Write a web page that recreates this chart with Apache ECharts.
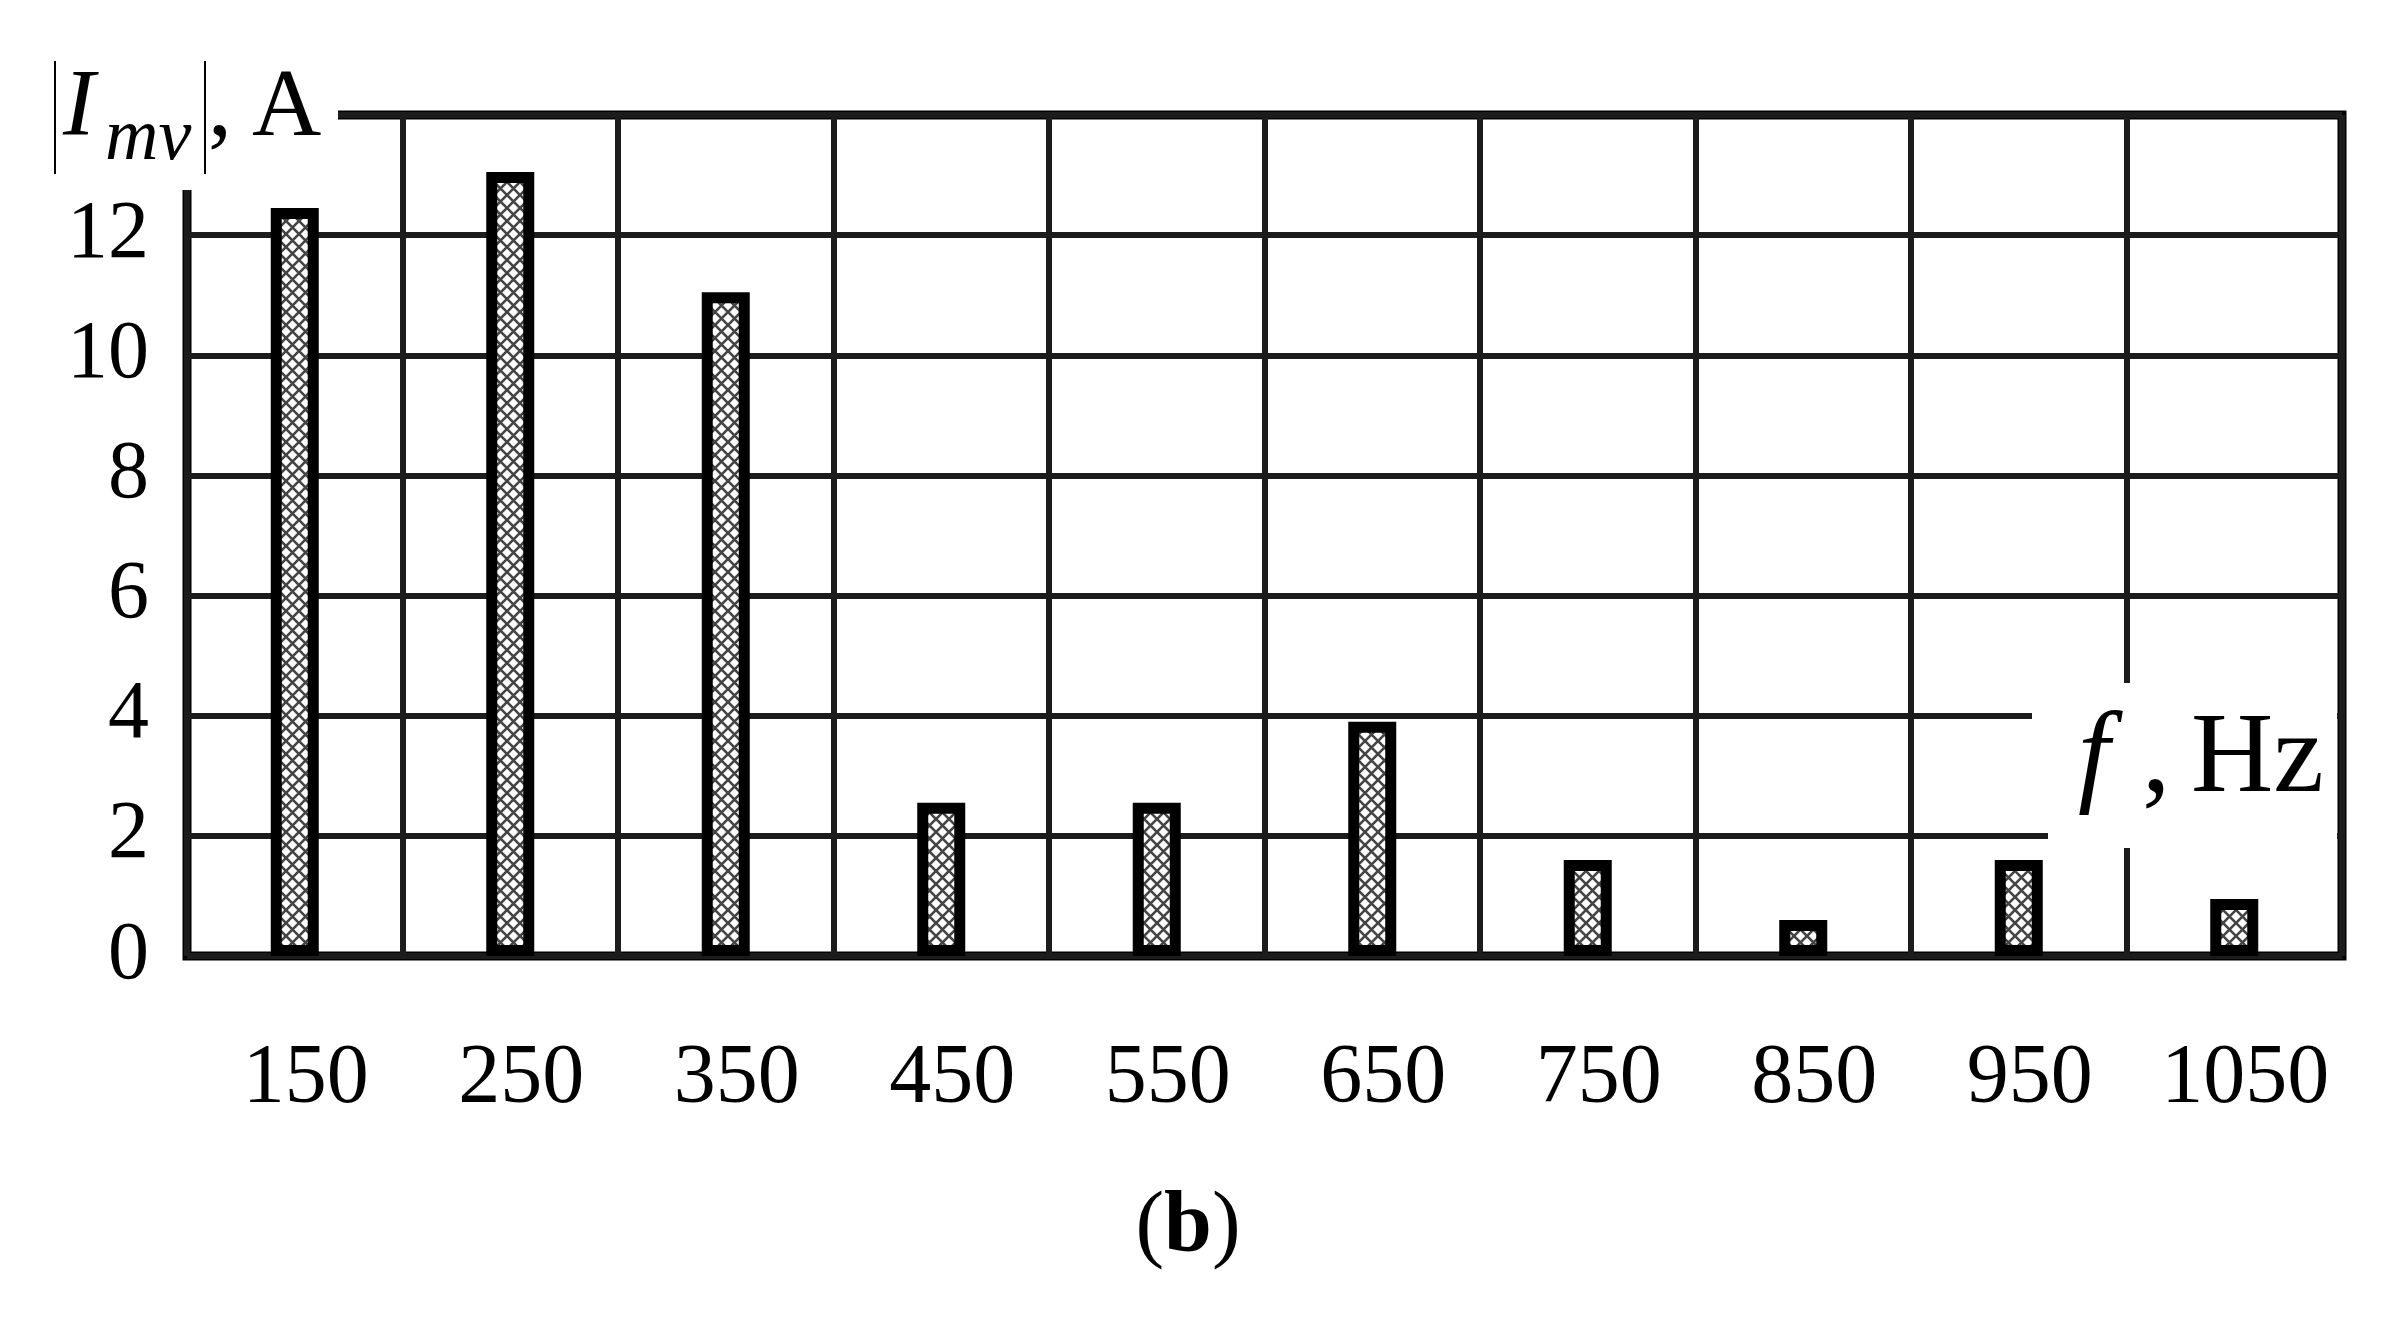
<!DOCTYPE html>
<html>
<head>
<meta charset="utf-8">
<script src="https://cdn.jsdelivr.net/npm/echarts@6/dist/echarts.min.js"></script>
<style>
html,body{margin:0;padding:0;background:#fff;}
#chart{width:2403px;height:1321px;}
</style>
</head>
<body>
<div id="chart"></div>
<script>
// ---- data ----
const categories = ['150', '250', '350', '450', '550', '650', '750', '850', '950', '1050'];
const values = [12.45, 13.05, 11.05, 2.55, 2.55, 3.9, 1.6, 0.6, 1.6, 0.95];
const yTickValues = [0, 2, 4, 6, 8, 10, 12, 14];
const yAxisName = { main: 'I', sub: 'mv', unit: 'A' };
const xAxisName = { sym: 'f', unit: 'Hz' };
const caption = 'b';

const FONT = '"Liberation Serif", "Times New Roman", serif';

// hatch pattern tile
const T = 13;
const tile = document.createElement('canvas');
tile.width = T; tile.height = T;
const tc = tile.getContext('2d');
tc.fillStyle = '#fff';
tc.fillRect(0, 0, T, T);
tc.strokeStyle = '#444';
tc.lineWidth = 2.6;
tc.beginPath();
tc.moveTo(0, 0); tc.lineTo(T, T);
tc.moveTo(T, 0); tc.lineTo(0, T);
tc.stroke();

const chart = echarts.init(document.getElementById('chart'), null, { renderer: 'canvas' });

const option = {
  animation: false,
  backgroundColor: '#fff',
  grid: {
    left: 187, right: 61, top: 115, bottom: 365,
    show: true, borderColor: '#000', borderWidth: 9, backgroundColor: 'transparent'
  },
  xAxis: {
    type: 'category',
    data: categories,
    boundaryGap: true,
    axisLine: { show: false },
    axisTick: { show: false },
    splitLine: { show: true, interval: 0, lineStyle: { color: '#1c1c1c', width: 6 } },
    axisLabel: {
      interval: 0,
      margin: 82,
      padding: [0, 0, 0, 22],
      fontFamily: FONT, fontSize: 84, color: '#000'
    }
  },
  yAxis: {
    type: 'value',
    min: yTickValues[0],
    max: yTickValues[yTickValues.length - 1],
    interval: yTickValues[1] - yTickValues[0],
    axisLine: { show: false },
    axisTick: { show: false },
    splitLine: { show: true, lineStyle: { color: '#1c1c1c', width: 6 } },
    axisLabel: {
      margin: 38,
      padding: [20, 0, 0, 0],
      fontFamily: FONT, fontSize: 82, color: '#000',
      formatter: function (v) { return v === yTickValues[yTickValues.length - 1] ? '' : String(v); }
    }
  },
  series: [{
    type: 'bar',
    data: values,
    barWidth: 48,
    itemStyle: {
      color: { image: tile, repeat: 'repeat' },
      borderColor: '#000',
      borderWidth: 11
    }
  }],
  graphic: [
    // y-axis name box
    { type: 'rect', z: 100, shape: { x: 0, y: 0, width: 338, height: 190 }, style: { fill: '#fff' } },
    { type: 'line', z: 101, shape: { x1: 55, y1: 61, x2: 55, y2: 174 }, style: { stroke: '#000', lineWidth: 2 } },
    { type: 'line', z: 101, shape: { x1: 205, y1: 61, x2: 205, y2: 174 }, style: { stroke: '#000', lineWidth: 2 } },
    { type: 'text', z: 101, x: 63, y: 110, style: { text: yAxisName.main, font: 'italic 96px ' + FONT, fill: '#000', verticalAlign: 'middle' } },
    { type: 'text', z: 101, x: 105, y: 140, style: { text: yAxisName.sub, font: 'italic 74px ' + FONT, fill: '#000', verticalAlign: 'middle' } },
    { type: 'text', z: 101, x: 208, y: 110, style: { text: ',', font: '96px ' + FONT, fill: '#000', verticalAlign: 'middle' } },
    { type: 'text', z: 101, x: 252, y: 110, style: { text: yAxisName.unit, font: '96px ' + FONT, fill: '#000', verticalAlign: 'middle' } },
    // x-axis name box
    { type: 'rect', z: 100, shape: { x: 2032, y: 683, width: 305, height: 100 }, style: { fill: '#fff' } },
    { type: 'rect', z: 100, shape: { x: 2048, y: 780, width: 289, height: 68 }, style: { fill: '#fff' } },
    { type: 'text', z: 101, x: 2078, y: 761, style: { text: xAxisName.sym, font: 'italic 114px ' + FONT, fill: '#000', verticalAlign: 'middle' } },
    { type: 'text', z: 101, x: 2142, y: 761, style: { text: ',', font: '114px ' + FONT, fill: '#000', verticalAlign: 'middle' } },
    { type: 'text', z: 101, x: 2191, y: 761, style: { text: xAxisName.unit, font: '114px ' + FONT, fill: '#000', verticalAlign: 'middle' } },
    // caption
    { type: 'text', z: 101, x: 1188, y: 1228, style: {
        text: '{r|(}{b|' + caption + '}{r|)}',
        align: 'center', verticalAlign: 'middle',
        rich: {
          r: { fontFamily: FONT, fontSize: 86, color: '#000' },
          b: { fontFamily: FONT, fontSize: 86, fontWeight: 'bold', color: '#000' }
        }
    } }
  ]
};

chart.setOption(option);
</script>
</body>
</html>
